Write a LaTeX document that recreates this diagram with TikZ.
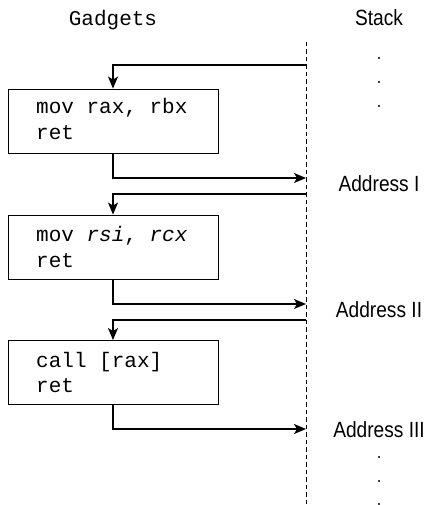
\documentclass[tikz,border=0pt]{standalone}
\usepackage{fontspec}
\usetikzlibrary{arrows.meta}
\newfontfamily\gmono{Liberation Mono}
\newfontfamily\gsans[FakeStretch=0.87]{Liberation Sans}
\begin{document}
\begin{tikzpicture}[x=1pt,y=-1pt,
  gbox/.style={draw, line width=0.9pt, minimum width=210pt, minimum height=64pt, inner sep=0pt},
  code/.style={anchor=base west, inner sep=0pt, font=\gmono\fontsize{21}{26}\selectfont},
  slabel/.style={anchor=base, inner sep=0pt, font=\gsans\fontsize{22}{26}\selectfont},
  arr/.style={line width=1.4pt, -{Stealth[length=12pt,width=10pt,inset=3pt]}},
  stackline/.style={line width=0.9pt, dash pattern=on 4.5pt off 3pt},
  sdot/.style={fill=black}]
\useasboundingbox (0,0) rectangle (446,505);
% titles
\node[anchor=base, inner sep=0pt, font=\gmono\fontsize{21}{26}\selectfont] (gtitle) at (113,26) {Gadgets};
\node[slabel] (stitle) at (379,26) {Stack};
% stack line
\coordinate (stop) at (306,42);
\coordinate (sbot) at (306,505);
\draw[stackline] (stop) -- (sbot);
% dots
\fill[sdot] (379,58) circle (1.1pt);
\fill[sdot] (379,82) circle (1.1pt);
\fill[sdot] (379,106) circle (1.1pt);
\fill[sdot] (379,457) circle (1.1pt);
\fill[sdot] (379,481) circle (1.1pt);
\fill[sdot] (379,504) circle (1.1pt);
% boxes
\node[gbox] (b1) at (113,121) {};
\node[code] (b1l1) at (36,114) {mov rax, rbx};
\node[code] (b1l2) at (36,140) {ret};
\node[gbox] (b2) at (113,247) {};
\node[code] (b2l1) at (36,241) {mov \textit{rsi}, \textit{rcx}};
\node[code] (b2l2) at (36,267) {ret};
\node[gbox] (b3) at (113,372.5) {};
\node[code] (b3l1) at (36,367) {call [rax]};
\node[code] (b3l2) at (36,392) {ret};
% addresses
\node[slabel] (ad1) at (379,191) {Address I};
\node[slabel] (ad2) at (379,317) {Address II};
\node[slabel] (ad3) at (379,437) {Address III};
% connector points on stack
\coordinate (s0) at (306,65);
\coordinate (r1) at (306,178);
\coordinate (s1) at (306,194);
\coordinate (r2) at (306,304);
\coordinate (s2) at (306,320);
\coordinate (r3) at (306,429);
% connectors
\draw[arr] (s0) -| (b1.north);
\draw[arr] (b1.south) |- (r1);
\draw[arr] (s1) -| (b2.north);
\draw[arr] (b2.south) |- (r2);
\draw[arr] (s2) -| (b3.north);
\draw[arr] (b3.south) |- (r3);
\end{tikzpicture}
\end{document}
